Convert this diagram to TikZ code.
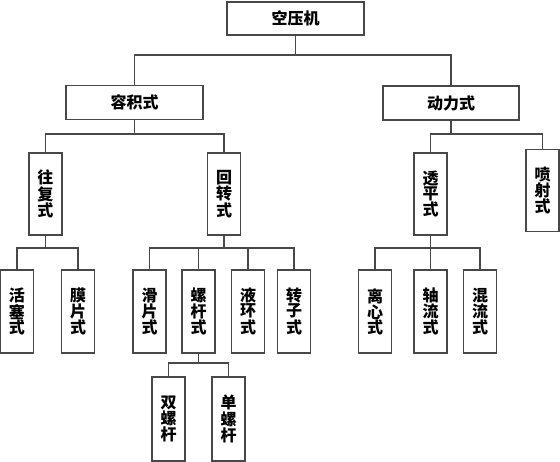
\documentclass[tikz,border=0pt]{standalone}
\usepackage{fontspec}
\newfontfamily\cjk{Noto Sans CJK SC}
\begin{document}
\begin{tikzpicture}[x=1pt,y=-1pt,
  box/.style={draw=linec,line width=1.3pt,fill=white,inner sep=0pt,align=center,
    font=\cjk\bfseries\fontsize{16pt}{15pt}\selectfont,text=black},
  hbox/.style={box,minimum width=137pt,minimum height=34pt},
  vbox/.style={box,minimum width=33pt,minimum height=82pt},
  conn/.style={draw=linec,line width=1.3pt}]
\definecolor{linec}{HTML}{484848}
\useasboundingbox (0,0) rectangle (560,462);
\fill[white] (0,0) rectangle (560,462);
% nodes
\node[hbox,minimum height=33pt] (root) at (295.5,18.5) {空压机};
\node[hbox] (rj) at (134.5,102.5) {容积式};
\node[hbox,minimum width=136pt] (dl) at (451,103) {动力式};
\node[vbox] (wf) at (45.5,194) {往\\复\\式};
\node[vbox] (hz) at (224,194) {回\\转\\式};
\node[vbox] (tp) at (430.5,194) {透\\平\\式};
\node[vbox] (ps) at (542.5,190.5) {喷\\射\\式};
\node[vbox,minimum height=83pt] (hs) at (17,311.5) {活\\塞\\式};
\node[vbox,minimum height=83pt] (mp) at (78,311.5) {膜\\片\\式};
\node[vbox,minimum height=83pt] (hp) at (149.5,311.5) {滑\\片\\式};
\node[vbox,minimum height=83pt] (lg) at (198.5,311.5) {螺\\杆\\式};
\node[vbox,minimum height=83pt] (yh) at (248,311.5) {液\\环\\式};
\node[vbox,minimum height=83pt] (zz) at (294,311.5) {转\\子\\式};
\node[vbox,minimum height=83pt] (lx) at (375,311.5) {离\\心\\式};
\node[vbox,minimum height=83pt] (zl) at (430.5,311.5) {轴\\流\\式};
\node[vbox,minimum height=83pt] (hl) at (480,311.5) {混\\流\\式};
\node[vbox,minimum height=84pt] (sl) at (168.5,419) {双\\螺\\杆};
\node[vbox,minimum height=84pt] (dg) at (228.5,419) {单\\螺\\杆};
% connectors
\foreach \p/\c/\b in {root/rj/55,root/dl/55,rj/wf/134,rj/hz/134,dl/tp/134,dl/ps/134,
  wf/hs/248,wf/mp/248,hz/hp/248,hz/lg/248,hz/yh/248,hz/zz/248,
  tp/lx/248,tp/zl/248,tp/hl/248,lg/sl/363,lg/dg/363}
  \draw[conn] (\p.south) -- (\p.south |- 0,\b) -| (\c.north);
\end{tikzpicture}
\end{document}
